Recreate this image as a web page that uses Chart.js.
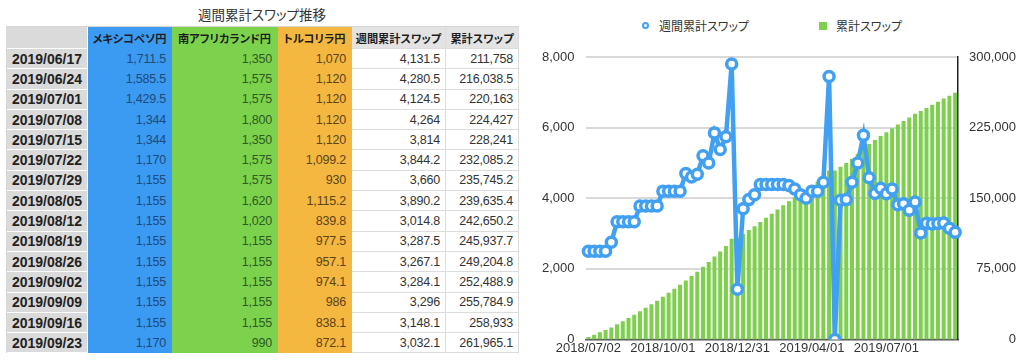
<!DOCTYPE html>
<html>
<head>
    <title>週間累計スワップ推移</title>
    <script src="https://cdn.jsdelivr.net/npm/chart.js"></script>
    <style>
        body { margin: 0; width: 1024px; height: 362px; overflow: hidden; background: #fff;
               font-family: "Noto Sans CJK JP", sans-serif; position: relative; }
        .title { position: absolute; left: 0; width: 524px; top: 4px; text-align: center;
                 font-size: 13.5px; color: #333; font-feature-settings: "palt"; }
        table.swap { position: absolute; left: 6px; top: 26px; border-collapse: separate; border-spacing: 0;
                     table-layout: fixed; border-top: 1px solid #d6d6d6; border-left: 1px solid #d6d6d6; }
        table.swap th, table.swap td { padding: 0 5px 0 0; text-align: right; white-space: nowrap;
                     border-right: 1px solid #dcdcdc; border-bottom: 1px solid #dcdcdc; overflow: hidden; }
        table.swap th { height: 21px; font-size: 11.2px; font-weight: bold; text-align: center; padding: 0;
                     font-feature-settings: "palt"; color: #1d1d1d; background: #e3e3e3; }
        table.swap td { height: 19.3px; font-family: "Liberation Sans", "Noto Sans CJK JP", sans-serif;
                     font-size: 12.5px; color: #333; letter-spacing: -0.2px; }
        table.swap td.date, table.swap th.date { background: #dadada; font-weight: bold; font-size: 14px;
                     color: #222; border-bottom: 1px solid #fff; border-right: 1px solid #fff; letter-spacing: 0; }
        .blue { background: #3b9bf3 !important; border-color: #3b9bf3 !important; }
        .green { background: #7cd24c !important; border-color: #7cd24c !important; }
        .orange { background: #f4b740 !important; border-color: #f4b740 !important; }
        td.blue { color: #1d4a78 !important; }
        td.green { color: #2f5a22 !important; }
        td.orange { color: #5c4419 !important; }
        .legend { position: absolute; top: 18px; left: 0; font-size: 12px; color: #333;
                  font-feature-settings: "palt"; }
        .legend span.item { position: absolute; white-space: nowrap; line-height: 16px; }
        .legend .dot { position: absolute; width: 3px; height: 3px; border: 2.5px solid #42a0f2;
                       border-radius: 50%; background: #fff; }
        .legend .sq { position: absolute; width: 8px; height: 8px; background: #7fcf4f; }
        .chart-box { position: absolute; left: 530px; top: 0; width: 494px; height: 362px; }
    </style>
</head>
<body>
    <div class="title">週間累計スワップ推移</div>
    <table class="swap" id="swapTable"></table>

    <div class="legend">
        <span class="dot" style="left: 642px; top: 4px;"></span>
        <span class="item" style="left: 659px; top: 0;">週間累計スワップ</span>
        <span class="sq" style="left: 819px; top: 4px;"></span>
        <span class="item" style="left: 836px; top: 0;">累計スワップ</span>
    </div>

    <div class="chart-box">
        <canvas id="swapChart"></canvas>
    </div>

    <script>
        // weekly dates (Mondays)
        const weekLabels = [
            '2018/07/02', '2018/07/09', '2018/07/16', '2018/07/23', '2018/07/30',
            '2018/08/06', '2018/08/13', '2018/08/20', '2018/08/27',
            '2018/09/03', '2018/09/10', '2018/09/17', '2018/09/24',
            '2018/10/01', '2018/10/08', '2018/10/15', '2018/10/22', '2018/10/29',
            '2018/11/05', '2018/11/12', '2018/11/19', '2018/11/26',
            '2018/12/03', '2018/12/10', '2018/12/17', '2018/12/24', '2018/12/31',
            '2019/01/07', '2019/01/14', '2019/01/21', '2019/01/28',
            '2019/02/04', '2019/02/11', '2019/02/18', '2019/02/25',
            '2019/03/04', '2019/03/11', '2019/03/18', '2019/03/25',
            '2019/04/01', '2019/04/08', '2019/04/15', '2019/04/22', '2019/04/29',
            '2019/05/06', '2019/05/13', '2019/05/20', '2019/05/27',
            '2019/06/03', '2019/06/10', '2019/06/17', '2019/06/24',
            '2019/07/01', '2019/07/08', '2019/07/15', '2019/07/22', '2019/07/29',
            '2019/08/05', '2019/08/12', '2019/08/19', '2019/08/26',
            '2019/09/02', '2019/09/09', '2019/09/16', '2019/09/23'
        ];

        // 週間累計スワップ (last 15 from the table)
        const weeklySwap = [
            2500, 2500, 2500, 2500, 2750,
            3330, 3330, 3330, 3330,
            3780, 3780, 3780, 3780,
            4200, 4200, 4200, 4200, 4700,
            4600, 4680, 5200, 5000,
            5850, 5380, 5740, 7800, 1420,
            3700, 3960, 4100, 4390,
            4390, 4390, 4390, 4390,
            4360, 4260, 4100, 4000,
            4200, 4200, 4450, 7450, 0,
            3940, 3960, 4450, 5000,
            5780, 4580, 4131.5, 4280.5,
            4124.5, 4264, 3814, 3844.2, 3660,
            3890.2, 3014.8, 3287.5, 3267.1,
            3284.1, 3296, 3148.1, 3032.1
        ];

        // 累計スワップ
        const cumulativeSwap = [
            2500, 5000, 7500, 10000, 12750,
            16080, 19410, 22740, 26070,
            29850, 33630, 37410, 41190,
            45390, 49590, 53790, 57990, 62690,
            67290, 71970, 77170, 82170,
            88020, 93400, 99140, 106940, 108360,
            112100, 116100, 120300, 124800,
            129200, 133600, 138000, 142400,
            146750, 151000, 155100, 159100,
            163300, 167600, 172100, 179550, 179550,
            183500, 187500, 191950, 196950,
            202750, 207626.5, 211758, 216038.5,
            220163, 224427, 228241, 232085.2, 235745.2,
            239635.4, 242650.2, 245937.7, 249204.8,
            252488.9, 255784.9, 258933, 261965.1
        ];

        // table columns (last 15 weeks)
        const mxnJpy = [1711.5, 1585.5, 1429.5, 1344, 1344, 1170, 1155, 1155, 1155, 1155, 1155, 1155, 1155, 1155, 1170];
        const zarJpy = [1350, 1575, 1575, 1800, 1350, 1575, 1575, 1620, 1020, 1155, 1155, 1155, 1155, 1155, 990];
        const tryJpy = [1070, 1120, 1120, 1120, 1120, 1099.2, 930, 1115.2, 839.8, 977.5, 957.1, 974.1, 986, 838.1, 872.1];
        const tableHeaders = ['', 'メキシコペソ円', '南アフリカランド円', 'トルコリラ円', '週間累計スワップ', '累計スワップ'];
        const colWidths = [81, 84, 106, 74, 94, 73];

        const fmt = v => v.toLocaleString('en-US', { maximumFractionDigits: 1 });

        // build the table
        const tbl = document.getElementById('swapTable');
        const colgroup = document.createElement('colgroup');
        colWidths.forEach(w => {
            const c = document.createElement('col');
            c.style.width = w + 'px';
            colgroup.appendChild(c);
        });
        tbl.appendChild(colgroup);
        const headClasses = ['date', 'blue', 'green', 'orange', '', ''];
        let tr = document.createElement('tr');
        tableHeaders.forEach((h, i) => {
            const th = document.createElement('th');
            th.textContent = h;
            if (headClasses[i]) th.className = headClasses[i];
            tr.appendChild(th);
        });
        tbl.appendChild(tr);
        const first = weekLabels.length - mxnJpy.length;
        for (let r = 0; r < mxnJpy.length; r++) {
            tr = document.createElement('tr');
            const cells = [
                [weekLabels[first + r], 'date'],
                [fmt(mxnJpy[r]), 'blue'],
                [fmt(zarJpy[r]), 'green'],
                [fmt(tryJpy[r]), 'orange'],
                [fmt(weeklySwap[first + r]), ''],
                [fmt(cumulativeSwap[first + r]), '']
            ];
            cells.forEach(([txt, cls]) => {
                const td = document.createElement('td');
                td.textContent = txt;
                if (cls) td.className = cls;
                tr.appendChild(td);
            });
            tbl.appendChild(tr);
        }

        // chart
        Chart.defaults.font.family = "'Liberation Sans', 'Noto Sans CJK JP', sans-serif";
        Chart.defaults.color = '#333';

        const ctx = document.getElementById('swapChart').getContext('2d');
        const chart = new Chart(ctx, {
            data: {
                labels: weekLabels,
                datasets: [{
                    type: 'line',
                    label: '週間累計スワップ',
                    data: weeklySwap,
                    yAxisID: 'y',
                    borderColor: '#42a0f2',
                    backgroundColor: '#fff',
                    borderWidth: 4.5,
                    tension: 0,
                    pointRadius: 5,
                    pointBorderWidth: 3.5,
                    pointBackgroundColor: '#fff',
                    pointBorderColor: '#42a0f2',
                    order: 0
                }, {
                    type: 'bar',
                    label: '累計スワップ',
                    data: cumulativeSwap,
                    yAxisID: 'y1',
                    backgroundColor: '#7fcf4f',
                    barPercentage: 0.7,
                    categoryPercentage: 1,
                    order: 1
                }]
            },
            options: {
                responsive: true,
                maintainAspectRatio: false,
                animation: false,
                layout: { padding: { top: 57, left: 1, right: 8, bottom: 5 } },
                plugins: {
                    legend: { display: false },
                    tooltip: { enabled: false }
                },
                scales: {
                    x: {
                        type: 'category',
                        offset: true,
                        grid: { display: false, drawTicks: false },
                        border: { display: true, color: '#555', width: 1.5 },
                        ticks: {
                            autoSkip: false,
                            maxRotation: 0,
                            padding: 1,
                            font: { size: 13 },
                            callback: (v, i) => (i % 13 === 0 ? weekLabels[i] : '')
                        }
                    },
                    y: {
                        position: 'left',
                        min: 0,
                        max: 8000,
                        grid: { color: '#d9d9d9', lineWidth: 2, drawTicks: false },
                        border: { display: false },
                        ticks: { stepSize: 2000, padding: 11, font: { size: 13 }, callback: v => fmt(v) }
                    },
                    y1: {
                        position: 'right',
                        min: 0,
                        max: 300000,
                        grid: { display: false, drawTicks: false },
                        border: { display: true, color: '#222', width: 1.5 },
                        ticks: { stepSize: 75000, padding: 5.5, crossAlign: 'far', font: { size: 13 }, callback: v => fmt(v) }
                    }
                }
            }
        });
    </script>
</body>
</html>
